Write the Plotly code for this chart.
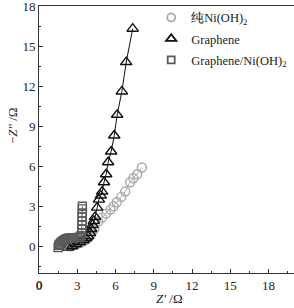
import plotly.graph_objects as go

ni_x = [2.4, 2.7, 3.0, 3.3, 3.6, 3.85, 4.1, 4.35, 4.65, 4.95, 5.27, 5.6, 5.85, 6.1, 6.45, 6.76, 7.15, 7.4, 7.7, 8.07]
ni_y = [0.0, 0.1, 0.2, 0.3, 0.45, 0.65, 0.95, 1.3, 1.85, 2.15, 2.45, 2.75, 3.0, 3.3, 3.7, 4.1, 4.8, 5.1, 5.4, 5.9]

gr_x = [2.3, 2.6, 2.9, 3.2, 3.5, 3.7, 3.85, 4.0, 4.1, 4.2, 4.3, 4.4, 4.56, 4.7, 4.85, 4.95, 5.1, 5.27, 5.42, 5.66, 5.9, 6.13, 6.5, 6.84, 7.35]
gr_y = [-0.1, 0.0, 0.15, 0.3, 0.45, 0.6, 0.75, 1.0, 1.3, 1.6, 1.9, 2.2, 2.9, 3.5, 3.8, 4.1, 4.8, 5.4, 6.3, 7.1, 8.3, 9.85, 11.6, 13.8, 16.3]

co_x = [1.5, 1.55, 1.6, 1.7, 1.8, 1.9, 2.0, 2.1, 2.2, 2.3, 2.45, 2.6, 2.75, 2.9, 3.05, 3.2, 3.3, 3.35, 3.35, 3.38, 3.38, 3.38, 3.4, 3.4, 3.4]
co_y = [-0.1, 0.05, 0.15, 0.25, 0.35, 0.42, 0.48, 0.53, 0.57, 0.6, 0.62, 0.63, 0.64, 0.65, 0.66, 0.68, 0.8, 1.0, 1.3, 1.6, 1.9, 2.2, 2.5, 2.8, 3.0]

names = ["纯Ni(OH)<sub>2</sub>", "Graphene", "Graphene/Ni(OH)<sub>2</sub>"]
x_ticks = [0, 3, 6, 9, 12, 15, 18]
y_ticks = [0, 3, 6, 9, 12, 15, 18]

FONT = "Liberation Serif"

c_ni, c_gr, c_co = "#aaaaaa", "#111111", "#5a5a5a"

fig = go.Figure()
series = [
    (ni_x, ni_y, c_ni, "circle-open", 9),
    (gr_x, gr_y, c_gr, "triangle-up-open", 10),
    (co_x, co_y, c_co, "square-open", 8),
]
for (xs, ys, col, sym, sz), nm in zip(series, names):
    fig.add_trace(go.Scatter(x=xs, y=ys, mode="lines+markers", showlegend=False,
                             line=dict(color=col, width=1),
                             marker=dict(symbol=sym, size=sz, color=col, line=dict(width=1.4))))
for i, ((xs, ys, col, sym, sz), nm) in enumerate(zip(series, names)):
    fig.add_trace(go.Scatter(x=[None], y=[None], mode="markers", name=nm, legendgroup=f"g{i}",
                             marker=dict(symbol=sym, size=sz - 1, color=col, line=dict(width=1.8))))

fig.update_layout(
    width=294, height=308,
    margin=dict(l=39, r=0, t=6, b=35, autoexpand=False),
    paper_bgcolor="white", plot_bgcolor="white",
    font=dict(family=FONT, size=13, color="#222"),
    showlegend=True,
    legend=dict(x=0.44, y=1.012, xanchor="left", yanchor="top", bgcolor="rgba(0,0,0,0)",
                font=dict(family=FONT, size=12.5), itemwidth=30, tracegroupgap=2),
    xaxis=dict(range=[0, 20], tickvals=x_ticks, ticks="inside", ticklen=4, tickcolor="#333",
               showline=True, linecolor="#333", linewidth=1, mirror=True, showgrid=False, zeroline=False,
               automargin=False, ticklabeloverflow="allow",
               minor=dict(dtick=1.5, ticks="inside", ticklen=2, tickcolor="#333")),
    yaxis=dict(range=[-2, 18], tickvals=y_ticks, ticks="inside", ticklen=4, tickcolor="#333",
               showline=True, linecolor="#333", linewidth=1, mirror=True, showgrid=False, zeroline=False,
               automargin=False, ticklabeloverflow="allow",
               minor=dict(dtick=1.5, ticks="inside", ticklen=2, tickcolor="#333")),
    annotations=[
        dict(text=str(x_ticks[0]), x=x_ticks[0], y=0, xref="x", yref="paper", yshift=-2,
             xanchor="center", yanchor="top", showarrow=False, font=dict(family=FONT, size=13, color="#222")),
        dict(text="<i>Z′</i> /Ω", x=0.51, y=-0.06, xref="paper", yref="paper",
             xanchor="center", yanchor="top", showarrow=False, font=dict(family=FONT, size=13)),
        dict(text="−<i>Z″</i> /Ω", x=-0.106, y=0.554, xref="paper", yref="paper", textangle=-90,
             xanchor="center", yanchor="middle", showarrow=False, font=dict(family=FONT, size=13)),
    ],
)

fig.write_html("out.html")
